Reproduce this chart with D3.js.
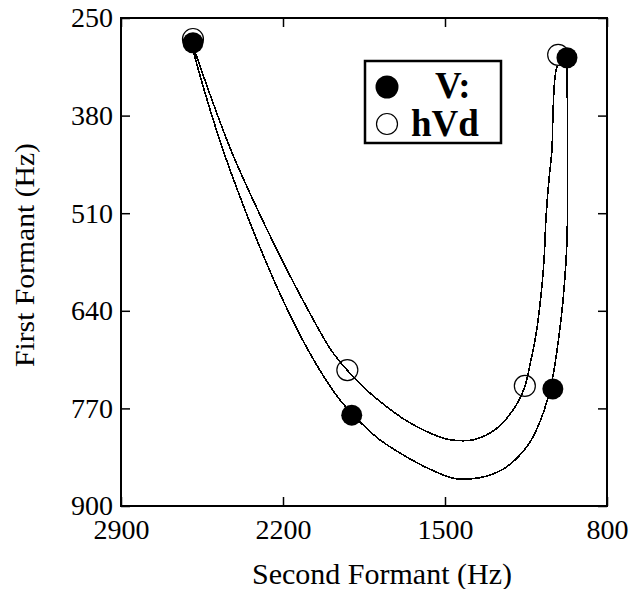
<!DOCTYPE html>
<html>
<head>
<meta charset="utf-8">
<script src="https://cdn.jsdelivr.net/npm/d3@7"></script>
<style>
  body { margin: 0; background: #fff; }
  svg { display: block; }
</style>
</head>
<body>
<div id="chart"></div>
<script>
// formant values (Hz)
var xTicks = [2900, 2200, 1500, 800];
var yTicks = [250, 380, 510, 640, 770, 900];

// V: (filled) vowel means
var vF2 = [2589, 1903, 1034, 973];
var vF1 = [283, 779, 744, 303];
// hVd (open) vowel means
var hF2 = [2589, 1922, 1155, 1011];
var hF1 = [278, 719, 740, 299];

// traced fit curves
var vCurveF2 = [2589, 2528, 2459, 2381, 2295, 2200, 2092, 1980, 1906, 1854, 1781, 1664, 1565, 1465, 1392, 1318, 1249, 1185, 1133, 1090, 1055, 1029, 1007, 990, 973, 973];
var vCurveF1 = [293, 359, 426, 492, 559, 626, 692, 748, 776, 792, 812, 835, 851, 863, 864, 860, 851, 835, 815, 788, 756, 719, 672, 626, 546, 309];
var hCurveF2 = [2589, 2507, 2425, 2330, 2226, 2114, 1993, 1923, 1837, 1751, 1664, 1578, 1491, 1435, 1379, 1318, 1262, 1215, 1180, 1154, 1133, 1107, 1085, 1072, 1064, 1051, 1038, 1033, 1025, 1016];
var hCurveF1 = [287, 359, 426, 492, 559, 626, 692, 719, 746, 768, 787, 801, 811, 813, 812, 805, 793, 776, 759, 740, 712, 672, 619, 572, 519, 466, 426, 373, 329, 314];

var W = 634, H = 589;
var mLeft = 121, mRight = 607, mTop = 18, mBottom = 506;

var svg = d3.select("#chart").append("svg").attr("width", W).attr("height", H);

var x = d3.scaleLinear().domain([2900, 800]).range([mLeft, mRight]);
var y = d3.scaleLinear().domain([250, 900]).range([mTop, mBottom]);

var tickFont = "Liberation Serif, Times New Roman, serif";
var fmt = d3.format("d");

// axes with inward ticks
var ax = [
  [d3.axisBottom(x).tickValues(xTicks).tickFormat(fmt).tickSize(-9).tickPadding(13), "translate(0," + mBottom + ")", true],
  [d3.axisTop(x).tickValues(xTicks).tickSize(-9), "translate(0," + mTop + ")", false],
  [d3.axisLeft(y).tickValues(yTicks).tickFormat(fmt).tickSize(-9).tickPadding(8), "translate(" + mLeft + ",0)", true],
  [d3.axisRight(y).tickValues(yTicks).tickSize(-9), "translate(" + mRight + ",0)", false]
];
ax.forEach(function(a) {
  var g = svg.append("g").attr("transform", a[1]).call(a[0]);
  g.select(".domain").remove();
  g.selectAll(".tick line").attr("stroke", "#000").attr("stroke-width", 1.5);
  if (a[2]) {
    g.selectAll(".tick text").attr("font-family", tickFont).attr("font-size", 28).attr("fill", "#000");
  } else {
    g.selectAll(".tick text").remove();
  }
});

svg.append("rect")
  .attr("x", mLeft).attr("y", mTop)
  .attr("width", mRight - mLeft).attr("height", mBottom - mTop)
  .attr("fill", "none").attr("stroke", "#000").attr("stroke-width", 2);

var line = d3.line()
  .x(function(d) { return x(d[0]); })
  .y(function(d) { return y(d[1]); })
  .curve(d3.curveCatmullRom.alpha(0.5));

[[vCurveF2, vCurveF1], [hCurveF2, hCurveF1]].forEach(function(c) {
  svg.append("path")
    .datum(d3.zip(c[0], c[1]))
    .attr("d", line)
    .attr("fill", "none")
    .attr("stroke", "#000")
    .attr("stroke-width", 1.6)
    .attr("shape-rendering", "crispEdges");
});

svg.selectAll(".hpt").data(d3.zip(hF2, hF1)).enter().append("circle")
  .attr("class", "hpt")
  .attr("cx", function(d) { return x(d[0]); })
  .attr("cy", function(d) { return y(d[1]); })
  .attr("r", 10.5)
  .attr("fill", "none")
  .attr("stroke", "#000").attr("stroke-width", 1.2);

svg.selectAll(".vpt").data(d3.zip(vF2, vF1)).enter().append("circle")
  .attr("class", "vpt")
  .attr("cx", function(d) { return x(d[0]); })
  .attr("cy", function(d) { return y(d[1]); })
  .attr("r", 10.5)
  .attr("fill", "#000");

// legend
var lg = svg.append("g");
lg.append("rect").attr("x", 365).attr("y", 61).attr("width", 136).attr("height", 82)
  .attr("fill", "#fff").attr("stroke", "#000").attr("stroke-width", 2.5);
lg.append("circle").attr("cx", 387).attr("cy", 87).attr("r", 11.5).attr("fill", "#000");
lg.append("circle").attr("cx", 387).attr("cy", 124).attr("r", 10.5)
  .attr("fill", "#fff").attr("stroke", "#000").attr("stroke-width", 1.2);
lg.append("text").attr("x", 435).attr("y", 98).text("V:")
  .attr("font-family", tickFont).attr("font-weight", "bold").attr("font-size", 37);
lg.append("text").attr("x", 411).attr("y", 136).text("hVd")
  .attr("font-family", tickFont).attr("font-weight", "bold").attr("font-size", 37);

svg.append("text")
  .attr("x", 382).attr("y", 584)
  .attr("text-anchor", "middle")
  .attr("font-family", tickFont).attr("font-size", 30)
  .text("Second Formant (Hz)");

svg.append("text")
  .attr("transform", "translate(34,255) rotate(-90)")
  .attr("text-anchor", "middle")
  .attr("font-family", tickFont)
  .attr("font-size", 27)
  .attr("textLength", 224).attr("lengthAdjust", "spacingAndGlyphs")
  .text("First Formant (Hz)");
</script>
</body>
</html>
